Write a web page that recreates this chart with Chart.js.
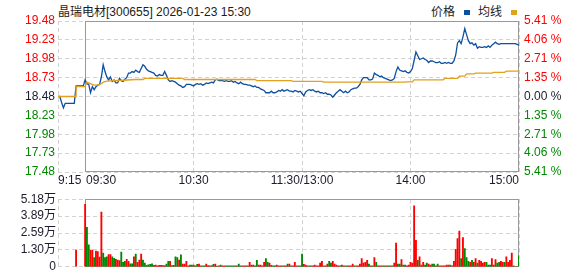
<!DOCTYPE html>
<html>
<head>
<meta charset="utf-8">
<script src="https://cdn.jsdelivr.net/npm/chart.js@4.4.1/dist/chart.umd.min.js"></script>
<style>
body { margin: 0; background: #fff; width: 578px; height: 276px; overflow: hidden; position: relative;
       font-family: "Liberation Sans", Arial, "Noto Sans CJK SC", sans-serif; font-size: 12px; color: #1c1c1c; }
#title { position: absolute; left: 58px; top: 2px; white-space: nowrap; }
#legend { position: absolute; left: 431px; top: 2px; white-space: nowrap; }
#legend i { display: inline-block; width: 6px; height: 5px; margin: 0 8px 0 9px; vertical-align: 1px; }
#pricebox { position: absolute; left: 0; top: 0; width: 578px; height: 190px; }
#volbox { position: absolute; left: 0; top: 190px; width: 578px; height: 86px; }
</style>
</head>
<body>
<div id="title">晶瑞电材[300655] 2026-01-23 15:30</div>
<div id="legend">价格<i style="background:#0d4fa0"></i>均线<i style="background:#e0a020"></i></div>
<div id="pricebox"><canvas id="price"></canvas></div>
<div id="volbox"><canvas id="vol"></canvas></div>
<script>
// time axis: minutes from 09:30 (11:30 and 13:00 share 120)
const timeTicks = [-15, 0, 60, 120, 180, 240];
const timeLabels = ['9:15', '09:30', '10:30', '11:30/13:00', '14:00', '15:00'];

const preClose = 18.48;
const priceTicks = [17.48, 17.73, 17.98, 18.23, 18.48, 18.73, 18.98, 19.23, 19.48];
const pctLabels = ['5.41 %', '4.06 %', '2.71 %', '1.35 %', '0.00 %', '1.35 %', '2.71 %', '4.06 %', '5.41 %'];

// 9:15 - 9:29 auction
const auctionPrice = [18.48, 18.48, 18.40, 18.33, 18.39, 18.39, 18.39, 18.39, 18.39, 18.39,
                      18.62, 18.62, 18.62, 18.62, 18.62];

// 09:30 .. 15:00, one per minute
const price = [
  18.70, 18.65, 18.64, 18.53, 18.61, 18.57, 18.61, 18.63, 18.64, 18.74,
  18.90, 18.81, 18.74, 18.70, 18.74, 18.68, 18.70, 18.66, 18.66, 18.72,
  18.69, 18.68, 18.71, 18.73, 18.79, 18.79, 18.81, 18.80, 18.83, 18.81,
  18.80, 18.85, 18.90, 18.88, 18.84, 18.82, 18.81, 18.80, 18.79, 18.76,
  18.75, 18.77, 18.76, 18.76, 18.81, 18.76, 18.70, 18.68, 18.69, 18.68,
  18.67, 18.65, 18.63, 18.62, 18.60, 18.61, 18.64, 18.64, 18.64, 18.63,
  18.62, 18.64, 18.65, 18.64, 18.65, 18.63, 18.64, 18.66, 18.65, 18.66,
  18.67, 18.66, 18.70, 18.71, 18.69, 18.69, 18.69, 18.68, 18.69, 18.68,
  18.68, 18.69, 18.67, 18.68, 18.66, 18.65, 18.67, 18.65, 18.64, 18.64,
  18.63, 18.63, 18.62, 18.61, 18.62, 18.60, 18.60, 18.58, 18.57, 18.56,
  18.53, 18.53, 18.53, 18.55, 18.53, 18.53, 18.54, 18.56, 18.55, 18.57,
  18.55, 18.56, 18.57, 18.55, 18.55, 18.54, 18.56, 18.55, 18.54, 18.55,
  18.52, 18.49, 18.54, 18.56, 18.57, 18.56, 18.57, 18.55, 18.54, 18.55,
  18.53, 18.53, 18.52, 18.53, 18.51, 18.51, 18.50, 18.47, 18.50, 18.53,
  18.55, 18.57, 18.55, 18.53, 18.55, 18.53, 18.54, 18.57, 18.58, 18.59,
  18.59, 18.61, 18.64, 18.70, 18.73, 18.73, 18.73, 18.70, 18.70, 18.71,
  18.79, 18.77, 18.76, 18.74, 18.75, 18.73, 18.72, 18.71, 18.70, 18.69,
  18.70, 18.72, 18.81, 18.87, 18.83, 18.82, 18.81, 18.82, 18.80, 18.79,
  18.81, 18.85, 18.96, 19.07, 19.02, 18.97, 18.98, 18.99, 18.97, 18.96,
  18.93, 18.95, 18.95, 18.94, 18.93, 18.93, 18.94, 18.92, 18.92, 18.93,
  18.92, 18.93, 18.92, 18.92, 18.95, 19.03, 19.19, 19.22, 19.18, 19.27,
  19.38, 19.30, 19.22, 19.18, 19.19, 19.16, 19.18, 19.12, 19.14, 19.13,
  19.13, 19.14, 19.13, 19.15, 19.13, 19.16, 19.18, 19.20, 19.18, 19.17,
  19.18, 19.18, 19.18, 19.18, 19.18, 19.18, 19.18, 19.18, 19.18, 19.17,
  19.16
];

// average price line (turning points)
const avgMinute = [-15, -5, -5, 0, 1, 3, 5, 7, 9, 10, 12, 16, 21, 28, 32, 33, 54, 55, 94, 95,
                   114, 115, 131, 132, 177, 178, 181, 182, 198, 199, 206, 207, 210, 211, 215, 216,
                   225, 226, 232, 233, 240];
const avgPrice = [18.48, 18.48, 18.61, 18.61, 18.67, 18.65, 18.63, 18.63, 18.65, 18.67, 18.685, 18.69,
                  18.695, 18.705, 18.705, 18.72, 18.72, 18.705, 18.705, 18.69, 18.69, 18.68, 18.68,
                  18.67, 18.67, 18.675, 18.675, 18.70, 18.70, 18.72, 18.72, 18.75, 18.75, 18.78,
                  18.78, 18.79, 18.79, 18.80, 18.80, 18.815, 18.815];

const volTicks = [0, 12950, 25900, 38850, 51800];
const volLabels = ['0', '1.30万', '2.59万', '3.89万', '5.18万'];

const auctionVolMinute = [-5];
const auctionVol = [12800];

const volume = [
  47800, 30300, 16800, 12800, 12800, 7000, 12100, 11700, 7500, 42000,
  10500, 7000, 7700, 9300, 9300, 7700, 6500, 5800, 5100, 4700,
  11200, 3500, 4200, 5800, 4200, 2300, 2300, 7700, 9800, 3500,
  5100, 9800, 5100, 2800, 1200, 1600, 1900, 2300, 1200, 1400,
  700, 1200, 1200, 900, 900, 2100, 4200, 4200, 900, 1200,
  7700, 7000, 5100, 9100, 2100, 2100, 4200, 700, 1400, 1400,
  1400, 700, 1900, 2100, 700, 700, 700, 2100, 900, 700,
  900, 1900, 2100, 500, 700, 1400, 700, 700, 700, 700,
  700, 700, 700, 700, 700, 2100, 700, 700, 700, 700,
  700, 3500, 1400, 1400, 700, 4900, 1400, 1400, 700, 3500,
  6300, 3500, 2800, 1200, 700, 700, 1400, 700, 700, 700,
  700, 700, 2100, 2100, 700, 700, 3500, 700, 700, 700,
  9800, 1900, 1400, 700, 700, 700, 700, 1400, 700, 700,
  2800, 4200, 700, 700, 2100, 4200, 2800, 4200, 2100, 1400,
  700, 700, 1400, 700, 700, 700, 700, 700, 2100, 700,
  700, 700, 2100, 6300, 2800, 3500, 4900, 2100, 700, 700,
  7000, 3500, 700, 700, 700, 700, 700, 700, 700, 700,
  700, 2800, 18200, 2100, 2100, 5600, 1400, 1400, 700, 1400,
  3500, 2800, 46800, 20300, 4900, 7700, 1400, 3500, 1400, 2800,
  2100, 1400, 2100, 2100, 700, 2100, 700, 700, 700, 700,
  1400, 1400, 1400, 700, 4200, 13300, 21700, 27300, 6300, 22400,
  14000, 7000, 4200, 3500, 4900, 3500, 6300, 2800, 4900, 4200,
  2800, 3500, 3500, 1400, 1400, 6300, 1400, 5600, 2800, 3500,
  4200, 3500, 3500, 7700, 3500, 4900, 10500, 700, 0, 0,
  8400
];
// 1 = up (red), 0 = down (green)
const volUp = [
  1,0,0,1,1,0,1,1,1,1, 0,0,0,1,1,0,0,1,1,1, 0,0,0,1,1,0,0,1,0,1,
  1,1,0,0,0,0,0,0,1,1, 1,1,1,1,1,0,0,1,0,1, 0,0,1,0,1,1,1,1,0,0,
  1,0,0,1,1,0,0,1,1,1, 0,0,1,0,1,0,1,1,0,0, 0,0,0,0,1,0,0,1,1,0,
  1,1,1,1,0,0,1,1,1,1, 0,0,1,1,0,0,1,1,1,0, 1,1,0,1,0,1,1,1,0,0,
  0,1,1,1,0,0,1,1,1,1, 1,1,0,1,1,0,0,1,1,1, 1,0,1,1,0,0,1,1,1,0,
  1,1,1,1,1,1,1,0,1,0, 1,0,1,1,1,0,0,1,0,1, 0,1,1,0,0,1,0,0,1,1,
  1,1,1,1,0,1,1,1,0,0, 1,1,0,0,1,0,1,1,1,1, 1,1,0,1,1,1,1,1,0,1,
  0,0,0,1,0,1,1,0,1,1, 1,1,0,0,0,1,0,1,0,0, 1,1,0,1,1,1,1,0,1,1,
  0
];

const RED = '#ff0000', GREEN = '#008800', DARK = '#1c1c2c';
const GRID = '#d2d2d2';
Chart.defaults.font.family = '"Liberation Sans", Arial, "Noto Sans CJK SC", sans-serif';
Chart.defaults.font.size = 12;
Chart.defaults.animation = false;

// solid grey frame from 09:30 to 15:00
const framePlugin = {
  id: 'frame',
  beforeDatasetsDraw(chart) {
    const {ctx, chartArea, scales} = chart;
    const x0 = Math.round(scales.x.getPixelForValue(0)) + 0.5;
    const x1 = Math.round(scales.x.getPixelForValue(240)) - 0.5;
    const y0 = Math.round(chartArea.top) + 0.5;
    const y1 = Math.round(chartArea.bottom) - 0.5;
    ctx.save();
    ctx.strokeStyle = '#999';
    ctx.lineWidth = 1;
    ctx.strokeRect(x0, y0, x1 - x0, y1 - y0);
    ctx.restore();
  }
};

// time labels: first two start at their line, last ends at its line
const timeLabelPlugin = {
  id: 'timeLabels',
  afterDraw(chart) {
    const {ctx, chartArea, scales} = chart;
    ctx.save();
    ctx.font = '12px ' + Chart.defaults.font.family;
    ctx.fillStyle = DARK;
    ctx.textBaseline = 'top';
    timeTicks.forEach((t, i) => {
      let x = scales.x.getPixelForValue(t);
      if (i < 2) { ctx.textAlign = 'left'; x += i; }
      else if (i === timeTicks.length - 1) ctx.textAlign = 'right';
      else ctx.textAlign = 'center';
      ctx.fillText(timeLabels[i], x, chartArea.bottom + 3);
    });
    ctx.restore();
  }
};

function makeXScale(h) {
  return {
    type: 'linear', min: -15, max: 240, offset: false,
    afterBuildTicks: s => { s.ticks = timeTicks.map(v => ({value: v})); },
    afterFit: s => { s.height = h; },
    ticks: {display: false},
    grid: {color: GRID, drawTicks: false, offset: false},
    border: {display: false, dash: [4, 3]}
  };
}

const pricePoints = auctionPrice.map((p, i) => ({x: i - 15, y: p}))
  .concat(price.map((p, i) => ({x: i, y: p})));
const avgPoints = avgMinute.map((m, i) => ({x: m, y: avgPrice[i]}));

function priceColor(v) {
  if (v > preClose + 0.001) return RED;
  if (v < preClose - 0.001) return GREEN;
  return DARK;
}

new Chart(document.getElementById('price'), {
  type: 'line',
  data: {
    datasets: [
      {label: '均线', data: avgPoints, borderColor: '#e0a020', borderWidth: 1.3, pointRadius: 0, tension: 0},
      {label: '价格', data: pricePoints, borderColor: '#0d4fa0', borderWidth: 1.3, pointRadius: 0, tension: 0}
    ]
  },
  options: {
    responsive: true, maintainAspectRatio: false,
    layout: {padding: {top: 21, left: 0, right: 0, bottom: 0}},
    plugins: {legend: {display: false}, tooltip: {enabled: false}},
    scales: {
      x: makeXScale(18),
      y: {
        position: 'left', min: 17.48, max: 19.48,
        afterBuildTicks: s => { s.ticks = priceTicks.map(v => ({value: v})); },
        afterFit: s => { s.width = 58; },
        ticks: {
          padding: 3, autoSkip: false,
          callback: v => v.toFixed(2),
          color: c => priceColor(c.tick.value)
        },
        grid: {color: GRID, drawTicks: false},
        border: {display: false, dash: [4, 3]}
      },
      y2: {
        position: 'right', min: 17.48, max: 19.48,
        afterBuildTicks: s => { s.ticks = priceTicks.map(v => ({value: v})); },
        afterFit: s => { s.width = 59; },
        ticks: {
          padding: 5, autoSkip: false,
          callback: (v, i) => pctLabels[i],
          color: c => priceColor(c.tick.value)
        },
        grid: {drawOnChartArea: false, drawTicks: false},
        border: {display: false}
      }
    }
  },
  plugins: [framePlugin, timeLabelPlugin]
});

const volPoints = auctionVol.map((v, i) => ({x: auctionVolMinute[i], y: v}))
  .concat(volume.map((v, i) => ({x: i, y: v})));
const volColors = auctionVol.map(() => RED)
  .concat(volUp.map(u => u ? RED : GREEN));

new Chart(document.getElementById('vol'), {
  type: 'bar',
  data: {
    datasets: [{label: '成交量', data: volPoints, backgroundColor: volColors, barThickness: 1.2, borderWidth: 0}]
  },
  options: {
    responsive: true, maintainAspectRatio: false,
    layout: {padding: {top: 7, left: 0, right: 59, bottom: 0}},
    plugins: {legend: {display: false}, tooltip: {enabled: false}},
    scales: {
      x: makeXScale(6),
      y: {
        position: 'left', min: 0, max: 51800,
        afterBuildTicks: s => { s.ticks = volTicks.map(v => ({value: v})); },
        afterFit: s => { s.width = 58; },
        ticks: {padding: 2, autoSkip: false, color: DARK, callback: (v, i) => volLabels[i]},
        grid: {color: GRID, drawTicks: false},
        border: {display: false, dash: [4, 3]}
      }
    }
  },
  plugins: [framePlugin]
});
</script>
</body>
</html>
